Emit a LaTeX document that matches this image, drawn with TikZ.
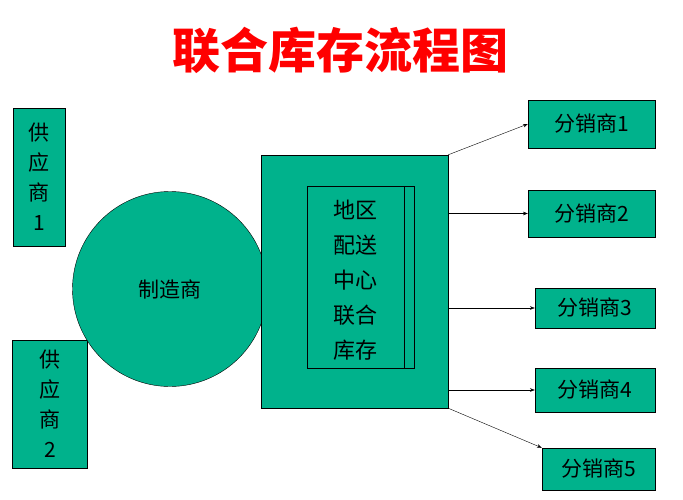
\documentclass[tikz,border=0pt]{standalone}
\usepackage{fontspec}
\newfontfamily\cjk{Noto Sans CJK SC}
\usetikzlibrary{arrows.meta, positioning}
\definecolor{teal1}{RGB}{0,178,140}
\begin{document}
\begin{tikzpicture}[
    x=1pt, y=-1pt,
    box/.style = {rectangle, draw, fill=teal1, inner sep=0pt, font=\cjk\fontsize{21}{30}\selectfont},
    pil/.style = {black, -Stealth}
    ]
  \useasboundingbox (0,0) rectangle (683,500);
  \node[font=\cjk\bfseries\fontsize{48}{52}\selectfont, text=red] (title) at (340,50) {联合库存流程图};

  \node[box, minimum width=52pt, minimum height=138pt, align=center] (s1) at (39,177) {供\\应\\商\\1};
  \node[box, minimum width=75pt, minimum height=128pt, align=center] (s2) at (50,404) {供\\应\\商\\2};
  \node[box, circle, minimum size=195pt] (maker) at (170,289) {制造商};

  \node[box, minimum width=187pt, minimum height=253pt] (center) at (354.5,281.5) {};
  \node[box, minimum width=107pt, minimum height=182pt, align=center, font=\cjk\fontsize{22}{35}\selectfont] (store) at (360.5,277) {};
  \node[align=center, font=\cjk\fontsize{22}{35}\selectfont] (storetext) at (355,280) {地区\\配送\\中心\\联合\\库存};
  \draw (404,186) -- (404,368);

  \node[box, minimum width=127pt, minimum height=48pt] (d1) at (591.5,124) {分销商1};
  \node[box, minimum width=127pt, minimum height=47pt] (d2) at (591.5,213.5) {分销商2};
  \node[box, minimum width=120pt, minimum height=40pt] (d3) at (595,308) {分销商3};
  \node[box, minimum width=120pt, minimum height=44pt] (d4) at (595,390) {分销商4};
  \node[box, minimum width=113pt, minimum height=42pt] (d5) at (598.5,469) {分销商5};

  \draw[pil] (center.north east) -- (d1.west);
  \draw[pil] (center.east |- d2.west) -- (d2.west);
  \draw[pil] (center.east |- d3.west) -- (d3.west);
  \draw[pil] (center.east |- d4.west) -- (d4.west);
  \draw[pil] (center.south east) -- (d5.north west);
\end{tikzpicture}
\end{document}
